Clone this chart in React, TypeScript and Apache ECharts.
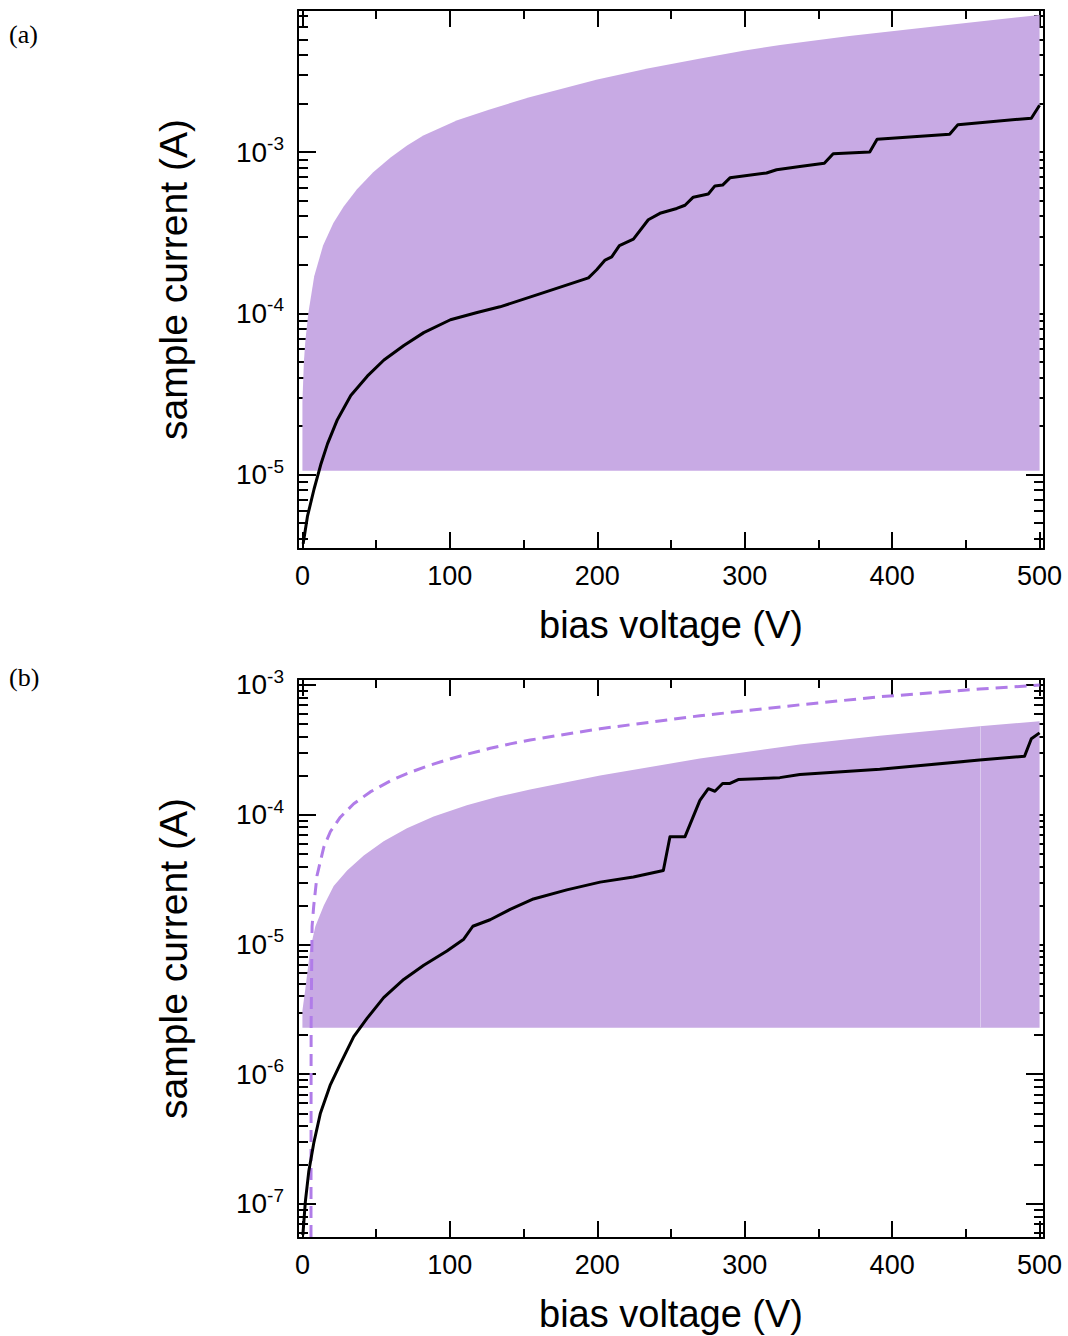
import React, { useEffect, useRef } from "react";
import * as echarts from "echarts";

const FONT = '"Liberation Sans", Arial, Helvetica, sans-serif';
const SERIF = '"Liberation Serif", "Times New Roman", serif';
const FILL = "#C8AAE4";
const SEAM = "#DCCBEE";
const DASH = "#B07CE8";

// axis ticks
const xMajorTicks = [0, 100, 200, 300, 400, 500];
const xMinorTicks = [50, 150, 250, 350, 450];
const minorMultipliers = [2, 3, 4, 5, 6, 7, 8, 9];
const aDecades = [-6, -5, -4, -3];
const bDecades = [-8, -7, -6, -5, -4, -3];

// ---------- panel (a) : values are log10(current / A) ----------
const aFillBase = -4.977;
const aFillV = [0, 1, 2, 4, 8, 14, 21, 28, 37, 48, 60, 71, 82, 105, 127, 154, 200, 235, 270, 300, 324, 371, 430, 500];
const aFillTop = [-4.55, -4.3, -4.17, -4.0, -3.77, -3.58, -3.44, -3.338, -3.231, -3.125, -3.032, -2.96, -2.898, -2.803, -2.736, -2.66, -2.55, -2.48, -2.42, -2.37, -2.336, -2.28, -2.22, -2.15];

const aLineV = [0.5, 3.4, 7.9, 12.4, 17, 23.7, 32.8, 44, 55.3, 68.8, 82.3, 100.4, 118.5, 134, 161, 194, 199.6, 205.3, 209.8, 215, 224.5, 234.6, 242.5, 253.9, 259.5, 265.1, 275.3, 279.8, 285, 290, 314.8, 321.6, 337.4, 354, 360, 384.8, 389.8, 439, 444.6, 494.4, 500];
const aLine = [-5.43, -5.26, -5.09, -4.94, -4.81, -4.66, -4.51, -4.39, -4.29, -4.2, -4.12, -4.04, -3.995, -3.96, -3.88, -3.78, -3.73, -3.67, -3.65, -3.58, -3.54, -3.42, -3.38, -3.35, -3.33, -3.28, -3.26, -3.21, -3.205, -3.16, -3.13, -3.11, -3.09, -3.07, -3.01, -3.0, -2.92, -2.89, -2.83, -2.79, -2.71];

// ---------- panel (b) ----------
const bFillBase = -5.642;
const bFillSeamV = 459.3;
const bFillV = [0, 2, 5.4, 8.8, 14.5, 21.2, 30.3, 41.6, 55.1, 70.9, 89, 111.5, 131.8, 154.4, 201.9, 269.6, 337.4, 391.6, 459.3, 500];
const bFillTop = [-5.51, -5.34, -5.03, -4.86, -4.7, -4.55, -4.431, -4.315, -4.205, -4.105, -4.015, -3.928, -3.865, -3.806, -3.698, -3.568, -3.46, -3.392, -3.319, -3.28];

const bDashV = [5.8, 5.9, 6.55, 7.7, 9.9, 14.5, 19, 25.7, 34.8, 46, 59.6, 70.9, 84.4, 98, 111.5, 127.4, 140.9, 154.5, 201.9, 269.6, 337.4, 391.6, 459.3, 500];
const bDash = [-7.4, -5.6, -4.86, -4.7, -4.47, -4.25, -4.13, -4.02, -3.916, -3.825, -3.74, -3.684, -3.627, -3.578, -3.535, -3.489, -3.455, -3.425, -3.338, -3.238, -3.154, -3.092, -3.032, -3.002];

const bLineV = [0.3, 2, 4.3, 7.7, 12.2, 19, 25.7, 34.8, 43.8, 55.1, 68.7, 82.3, 98, 109.4, 115.6, 127.3, 140.9, 156.7, 179.3, 201.9, 224.5, 244.8, 249.3, 259.5, 269.6, 275.3, 279.8, 285, 290, 295.6, 323.8, 337.4, 391.6, 459.3, 489.8, 494.4, 500];
const bLine = [-7.24, -6.98, -6.75, -6.53, -6.3, -6.08, -5.92, -5.71, -5.57, -5.41, -5.27, -5.16, -5.05, -4.96, -4.86, -4.81, -4.73, -4.65, -4.58, -4.52, -4.48, -4.43, -4.17, -4.17, -3.89, -3.8, -3.82, -3.76, -3.76, -3.73, -3.715, -3.69, -3.65, -3.58, -3.55, -3.415, -3.37];

const X_MIN = -3;
const X_MAX = 503;

function minorTicks(decades: number[], lo: number, hi: number) {
  const out: number[] = [];
  decades.forEach((d) => minorMultipliers.forEach((m) => {
    const v = d + Math.log10(m);
    if (v > lo && v < hi) out.push(v);
  }));
  return out;
}
function majorTicks(decades: number[], lo: number, hi: number) {
  return decades.filter((d) => d >= lo && d <= hi);
}

const black = { color: "#000", width: 2 };

function buildXAxes(gi: number) {
  const common = {
    gridIndex: gi, type: "value", min: X_MIN, max: X_MAX,
    splitLine: { show: false },
  };
  return [
    {
      ...common, position: "bottom",
      axisLine: { show: true, onZero: false, lineStyle: black },
      axisTick: { show: true, inside: true, length: 17, lineStyle: black, customValues: xMajorTicks },
      axisLabel: { show: true, customValues: xMajorTicks, color: "#000", fontSize: 27, fontFamily: FONT, margin: 13 },
      name: "bias voltage (V)", nameLocation: "middle", nameGap: 57,
      nameTextStyle: { color: "#000", fontSize: 38, fontFamily: FONT },
    },
    {
      ...common, position: "bottom",
      axisLine: { show: false, onZero: false },
      axisTick: { show: true, inside: true, length: 9, lineStyle: black, customValues: xMinorTicks },
      axisLabel: { show: false },
    },
    {
      ...common, position: "top",
      axisLine: { show: true, onZero: false, lineStyle: black },
      axisTick: { show: true, inside: true, length: 17, lineStyle: black, customValues: xMajorTicks },
      axisLabel: { show: false },
    },
    {
      ...common, position: "top",
      axisLine: { show: false, onZero: false },
      axisTick: { show: true, inside: true, length: 9, lineStyle: black, customValues: xMinorTicks },
      axisLabel: { show: false },
    },
  ];
}

function buildYAxes(gi: number, lo: number, hi: number, decades: number[]) {
  const major = majorTicks(decades, lo, hi);
  const minor = minorTicks(decades, lo, hi);
  const common = { gridIndex: gi, type: "value", min: lo, max: hi, splitLine: { show: false } };
  return [
    {
      ...common, position: "left",
      axisLine: { show: true, onZero: false, lineStyle: black },
      axisTick: { show: true, inside: true, length: 18, lineStyle: black, customValues: major },
      axisLabel: {
        show: true, customValues: major, margin: 14,
        formatter: (v: number) => `{b|10}{s|${Math.round(v)}}`,
        rich: {
          b: { fontSize: 28, fontFamily: FONT, color: "#000", lineHeight: 36 },
          s: { fontSize: 19, fontFamily: FONT, color: "#000", lineHeight: 19, verticalAlign: "top" },
        },
      },
      name: "sample current (A)", nameLocation: "middle", nameGap: 105,
      nameTextStyle: { color: "#000", fontSize: 39, fontFamily: FONT },
    },
    {
      ...common, position: "left",
      axisLine: { show: false, onZero: false },
      axisTick: { show: true, inside: true, length: 10, lineStyle: black, customValues: minor },
      axisLabel: { show: false },
    },
    {
      ...common, position: "right",
      axisLine: { show: true, onZero: false, lineStyle: black },
      axisTick: { show: true, inside: true, length: 18, lineStyle: black, customValues: major },
      axisLabel: { show: false },
    },
    {
      ...common, position: "right",
      axisLine: { show: false, onZero: false },
      axisTick: { show: true, inside: true, length: 10, lineStyle: black, customValues: minor },
      axisLabel: { show: false },
    },
  ];
}

// Filled band between a constant floor and the read-off upper boundary,
// drawn as one polygon positioned through the axes' scales (api.coord).
function fillSeries(axisIdx: number, xs: number[], tops: number[], base: number, seamV?: number) {
  return {
    type: "custom", xAxisIndex: axisIdx, yAxisIndex: axisIdx, silent: true, z: 1,
    data: xs.map((x, i) => [x, tops[i]]),
    renderItem: (params: any, api: any) => {
      if (params.dataIndex !== 0) return null;
      const pts = [
        api.coord([xs[0], base]),
        ...xs.map((x, i) => api.coord([x, tops[i]])),
        api.coord([xs[xs.length - 1], base]),
      ];
      const children: any[] = [
        { type: "polygon", shape: { points: pts, smooth: 0 }, style: { fill: FILL } },
      ];
      if (seamV != null) {
        const k = xs.indexOf(seamV);
        const b = api.coord([seamV, base]);
        const t = api.coord([seamV, k >= 0 ? tops[k] : base]);
        children.push({
          type: "line",
          shape: { x1: Math.round(b[0]) + 0.5, y1: b[1], x2: Math.round(t[0]) + 0.5, y2: t[1] },
          style: { stroke: SEAM, lineWidth: 1 },
        });
      }
      return { type: "group", children };
    },
  };
}

function lineSeries(axisIdx: number, xs: number[], ys: number[], color: string, type: any) {
  return {
    type: "line", xAxisIndex: axisIdx, yAxisIndex: axisIdx,
    data: xs.map((x, i) => [x, ys[i]]), symbol: "none", silent: true, clip: true,
    lineStyle: { color, width: 3, type, cap: "butt", join: "round" }, z: 3,
  };
}

export default function App() {
  const ref = useRef<HTMLDivElement>(null);
  useEffect(() => {
    document.body.style.margin = "0";
    if (!ref.current) return;
    const chart = echarts.init(ref.current, null, { renderer: "svg" });
    const option: any = {
      animation: false,
      backgroundColor: "#fff",
      grid: [
        { left: 298, top: 10, width: 746, height: 539 },
        { left: 298, top: 679, width: 746, height: 559 },
      ],
      xAxis: [...buildXAxes(0), ...buildXAxes(1)],
      yAxis: [
        ...buildYAxes(0, -5.462, -2.119, aDecades),
        ...buildYAxes(1, -7.262, -2.955, bDecades),
      ],
      graphic: [
        { type: "text", left: 9, top: 21, style: { text: "(a)", font: `26px ${SERIF}`, fill: "#000" } },
        { type: "text", left: 9, top: 664, style: { text: "(b)", font: `26px ${SERIF}`, fill: "#000" } },
      ],
      series: [
        fillSeries(0, aFillV, aFillTop, aFillBase),
        lineSeries(0, aLineV, aLine, "#000", "solid"),
        fillSeries(4, bFillV, bFillTop, bFillBase, bFillSeamV),
        lineSeries(4, bDashV, bDash, DASH, [12, 7]),
        lineSeries(4, bLineV, bLine, "#000", "solid"),
      ],
    };
    chart.setOption(option);
    return () => chart.dispose();
  }, []);
  return <div ref={ref} style={{ width: 1068, height: 1336 }} />;
}
